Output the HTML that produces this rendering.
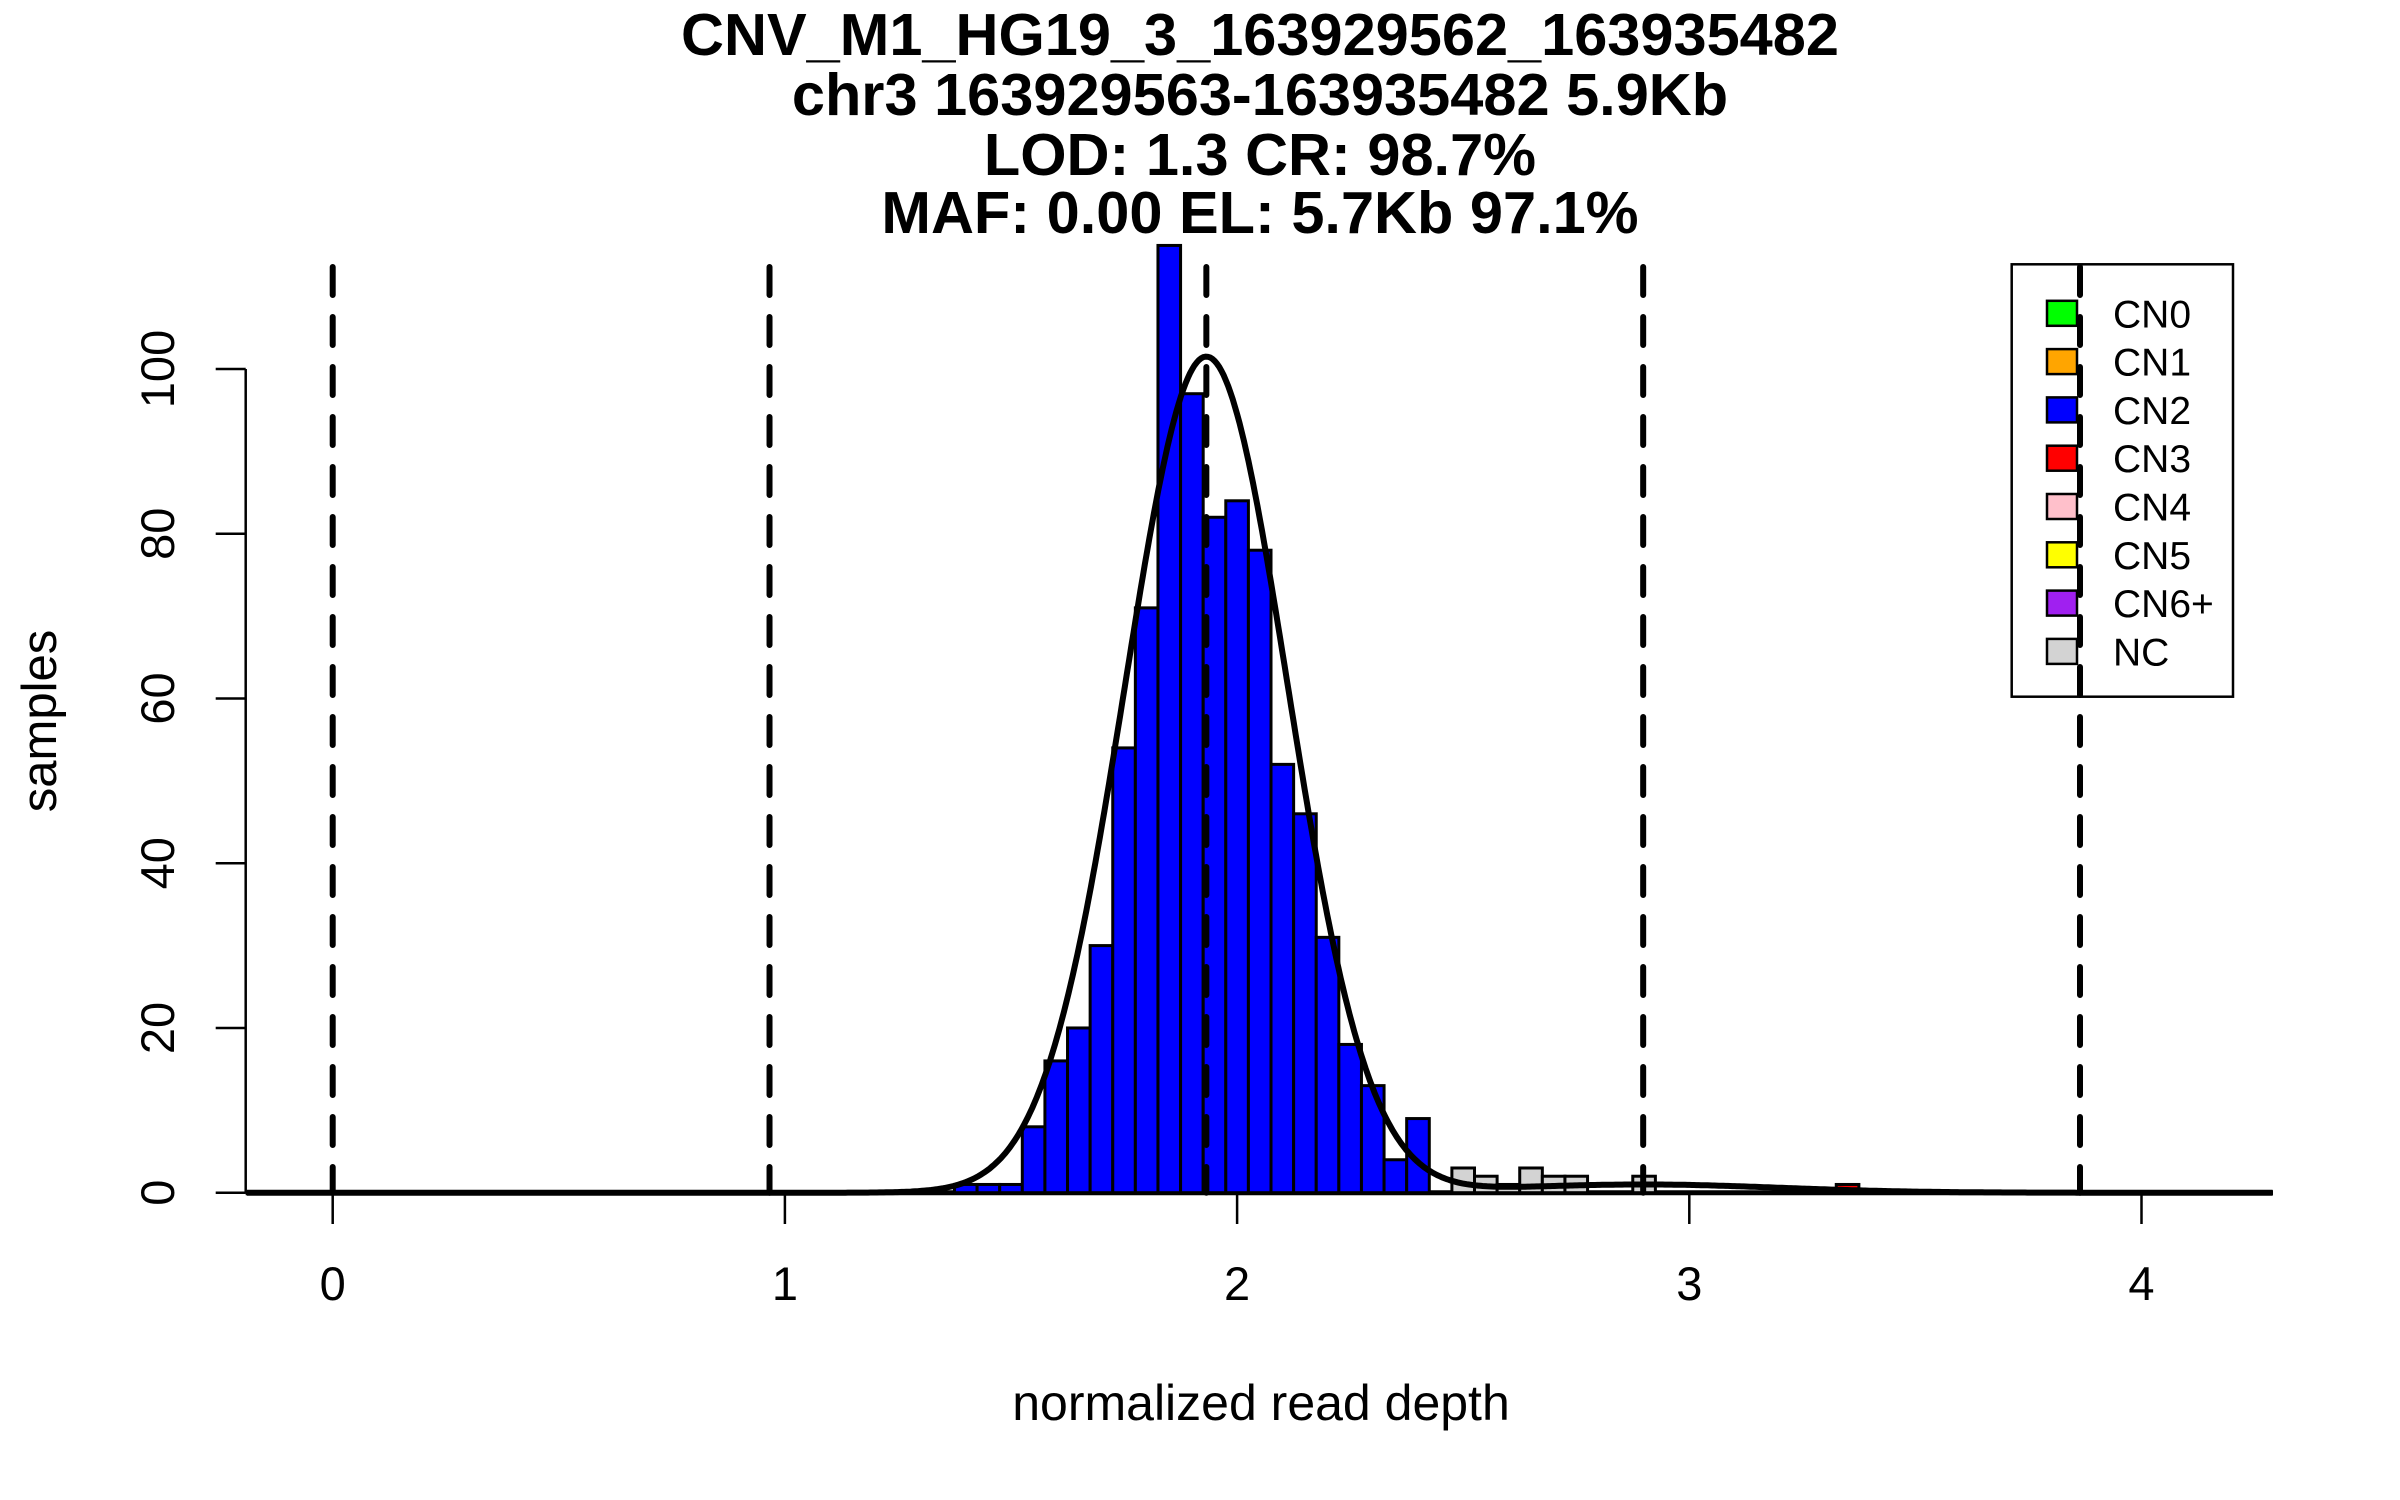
<!DOCTYPE html>
<html><head><meta charset="utf-8"><style>
html,body{margin:0;padding:0;background:#fff;}
svg{display:block;font-family:"Liberation Sans",sans-serif;}
</style></head><body>
<svg id="chart" width="2400" height="1500" viewBox="0 0 2400 1500" xmlns="http://www.w3.org/2000/svg">
<rect x="0" y="0" width="2400" height="1500" fill="#fff"/>
<g font-weight="bold" font-size="59.5" text-anchor="middle" fill="#000">
<text x="1260" y="55">CNV_M1_HG19_3_163929562_163935482</text>
<text x="1260" y="115">chr3 163929563-163935482 5.9Kb</text>
<text x="1260" y="175">LOD: 1.3 CR: 98.7%</text>
<text x="1260" y="233">MAF: 0.00 EL: 5.7Kb 97.1%</text>
</g>
<text x="1261" y="1420" font-size="50" text-anchor="middle">normalized read depth</text>
<text transform="translate(56,721) rotate(-90)" font-size="49" text-anchor="middle">samples</text>
<g id="plot"></g>
</svg>
<script>
const binLeft = [1.375,1.425,1.475,1.525,1.575,1.625,1.675,1.725,1.775,1.825,1.875,1.925,1.975,2.025,2.075,2.125,2.175,2.225,2.275,2.325,2.375];
const cn2Counts = [1,1,1,8,16,20,30,54,71,115,97,82,84,78,52,46,31,18,13,4,9];
const ncLeft = [2.475,2.525,2.575,2.625,2.675,2.725,2.875];
const ncCounts = [3,2,1,3,2,2,2];
const cn3Left = [3.325];
const cn3Counts = [1];
const binWidth = 0.05;
const xTicks = [0,1,2,3,4];
const yTicks = [0,20,40,60,80,100];
const cnLines = [0,0.966,1.932,2.898,3.864];
const fitMeans = [1.932,2.898];
const fitAmps = [101.5,1.0];
const fitSds = [0.18,0.3];
const legendLabels = ["CN0","CN1","CN2","CN3","CN4","CN5","CN6+","NC"];
const legendColors = ["#00ff00","#ffa500","#0000ff","#ff0000","#ffc0cb","#ffff00","#a020f0","#d3d3d3"];

const X0 = 332.7, XS = 452.2, Y0 = 1192.7, YS = 8.237;
function xs(v){return X0 + v*XS;}
function ys(v){return Y0 - v*YS;}
const NS = "http://www.w3.org/2000/svg";
const plot = document.getElementById('plot');
function mk(tag, attrs, parent){
  const e = document.createElementNS(NS, tag);
  for (const k in attrs) e.setAttribute(k, attrs[k]);
  (parent||plot).appendChild(e);
  return e;
}
let bl = mk('line',{x1:245.7,y1:Y0,x2:2273,y2:Y0,stroke:'#000','stroke-width':3});


let bs1 = mk('line',{x1:245.7,y1:Y0,x2:433,y2:Y0,stroke:'#000','stroke-width':5});


let bs2 = mk('line',{x1:564,y1:Y0,x2:2273,y2:Y0,stroke:'#000','stroke-width':5});



function drawBars(lefts, counts, color, name){
  lefts.forEach((l,i)=>{
    const x1 = xs(l), x2 = xs(l+binWidth), y = ys(counts[i]);
    const r = mk('rect',{x:x1,y:y,width:x2-x1,height:Y0-y,fill:color,stroke:'#000','stroke-width':3});
    
    
  });
}
drawBars(binLeft, cn2Counts, '#0000ff', 'cn2-bar');
drawBars(ncLeft, ncCounts, '#d3d3d3', 'nc-bar');
drawBars(cn3Left, cn3Counts, '#ff0000', 'cn3-bar');

cnLines.forEach(v=>{
  const l = mk('line',{x1:xs(v),y1:267,x2:xs(v),y2:Y0,stroke:'#000','stroke-width':6,'stroke-dasharray':'28 22','stroke-linecap':'round'});
  
  
});

let d = '';
for (let i=0;i<=900;i++){
  const v = -0.19 + i*(4.48/900);
  let y = 0;
  for (let k=0;k<fitMeans.length;k++) y += fitAmps[k]*Math.exp(-Math.pow(v-fitMeans[k],2)/(2*fitSds[k]*fitSds[k]));
  d += (i?'L':'M') + xs(v).toFixed(1) + ' ' + ys(y).toFixed(1);
}
const curve = mk('path',{d:d,fill:'none',stroke:'#000','stroke-width':6});



const ya = mk('line',{x1:245.7,y1:ys(0),x2:245.7,y2:ys(100),stroke:'#000','stroke-width':2.5});


yTicks.forEach(t=>{
  const tk = mk('line',{x1:215.7,y1:ys(t),x2:245.7,y2:ys(t),stroke:'#000','stroke-width':2.5});
  
  
  const tx = mk('text',{transform:`translate(174,${ys(t)}) rotate(-90)`,'font-size':47,'text-anchor':'middle'});
  tx.textContent = t;
  
  
});
xTicks.forEach(t=>{
  const tk = mk('line',{x1:xs(t),y1:Y0,x2:xs(t),y2:1224,stroke:'#000','stroke-width':2.5});
  
  
  const tx = mk('text',{x:xs(t),y:1300,'font-size':47,'text-anchor':'middle'});
  tx.textContent = t;
  
  
});

const lg = mk('rect',{x:2011.7,y:264.3,width:221.3,height:432.4,fill:'none',stroke:'#000','stroke-width':2.5});


legendLabels.forEach((lab,i)=>{
  const cy = 313.3 + i*48.3;
  const sw = mk('rect',{x:2047,y:cy-12.5,width:30,height:25,fill:legendColors[i],stroke:'#000','stroke-width':2.5});
  
  
  const tx = mk('text',{x:2113,y:cy+14,'font-size':39});
  tx.textContent = lab;
  
  
});
</script>
</body></html>
